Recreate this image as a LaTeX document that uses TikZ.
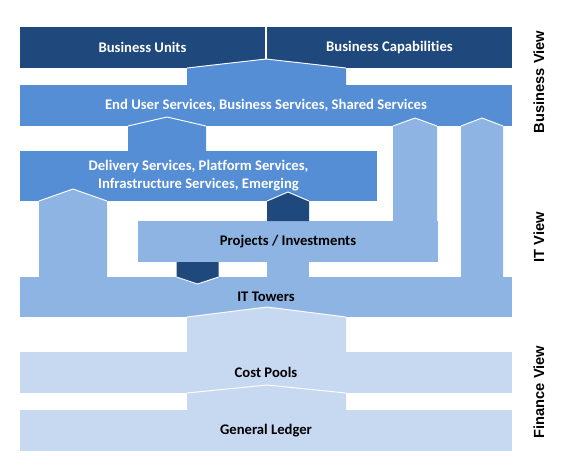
\documentclass[tikz,border=0pt]{standalone}
\usepackage{fontspec}
\setmainfont{Carlito}[Ligatures={NoCommon,NoRare}]
\newfontfamily\sidefont{Liberation Sans}
\usetikzlibrary{positioning,calc}
\definecolor{tbmdark}{RGB}{31,73,125}
\definecolor{tbmmid}{RGB}{85,142,213}
\definecolor{tbmlight}{RGB}{142,180,227}
\definecolor{tbmpale}{RGB}{198,217,241}

\begin{document}
\begin{tikzpicture}[x=0.75pt, y=-0.75pt,
    layer/.style={rectangle, inner sep=0pt, outer sep=0pt, minimum width=369pt,
                  minimum height=30.75pt, align=center,
                  font=\bfseries\fontsize{11pt}{13.5pt}\selectfont},
    darkbox/.style={layer, fill=tbmdark, text=white},
    midbox/.style={layer, fill=tbmmid, text=white},
    lightbox/.style={layer, fill=tbmlight, text=black},
    palebox/.style={layer, fill=tbmpale, text=black},
    roof/.style={draw=white, line width=0.7pt, line join=miter},
    viewlabel/.style={rotate=90, font=\sidefont\bfseries\fontsize{11pt}{13pt}\selectfont}
]
\useasboundingbox (0,0) rectangle (578,472);

% layers
\node[darkbox, minimum width=183.75pt] (bu) at (142.5,47.5) {Business Units};
\node[darkbox, minimum width=183.75pt, right=1.5pt of bu] (bc) {Business Capabilities};
\node[midbox] (eus) at (266,105.5) {End User Services, Business Services, Shared Services};
\node[midbox, minimum width=267.75pt, minimum height=37.5pt] (dlv) at (198.5,176)
    {Delivery Services, Platform Services,\\Infrastructure Services, Emerging};
\node[lightbox, minimum width=225pt] (prj) at (288,241.5) {Projects / Investments};
\node[lightbox, minimum height=30pt] (itt) at (266,297) {IT Towers};
\node[palebox, below=26.25pt of itt] (cp) {Cost Pools};
\node[palebox, below=12.75pt of cp] (gl) {General Ledger};

% end user services -> business
\fill[tbmmid] ($(eus.north)+(-79,0)$) -- ($(eus.north |- bu.south)+(-79,0)$) -- ($(eus.north |- bu.south)+(0,-9)$)
    -- ($(eus.north |- bu.south)+(80,0)$) -- ($(eus.north)+(80,0)$) -- cycle;
\draw[roof] ($(eus.north |- bu.south)+(-79,0)$) -- ++(79,-9) -- ++(80,9);

% delivery -> end user services
\coordinate (a2) at ($(dlv.north west)+(147,0)$);
\fill[tbmmid] ($(a2)+(-39,0)$) -- ($(a2 |- eus.south)+(-39,0)$) -- ($(a2 |- eus.south)+(0,-9)$)
    -- ($(a2 |- eus.south)+(39,0)$) -- ($(a2)+(39,0)$) -- cycle;
\draw[roof] ($(a2 |- eus.south)+(-39,0)$) -- ++(39,-9) -- ++(39,9);

% projects -> end user services
\coordinate (a3) at ($(prj.north east)+(-23,0)$);
\fill[tbmlight] ($(a3)+(-22,0)$) -- ($(a3 |- eus.south)+(-22,0)$) -- ($(a3 |- eus.south)+(0,-8)$)
    -- ($(a3 |- eus.south)+(22,0)$) -- ($(a3)+(22,0)$) -- cycle;
\draw[roof] ($(a3 |- eus.south)+(-22,0)$) -- ++(22,-8) -- ++(22,8);

% it towers -> end user services
\coordinate (a4) at ($(itt.north east)+(-30,0)$);
\fill[tbmlight] ($(a4)+(-21,0)$) -- ($(a4 |- eus.south)+(-21,0)$) -- ($(a4 |- eus.south)+(0,-8)$)
    -- ($(a4 |- eus.south)+(21,0)$) -- ($(a4)+(21,0)$) -- cycle;
\draw[roof] ($(a4 |- eus.south)+(-21,0)$) -- ++(21,-8) -- ++(21,8);

% it towers -> delivery
\coordinate (a5) at ($(itt.north west)+(53,0)$);
\fill[tbmlight] ($(a5)+(-34,0)$) -- ($(a5 |- dlv.south)+(-34,0)$) -- ($(a5 |- dlv.south)+(0,-12)$)
    -- ($(a5 |- dlv.south)+(34,0)$) -- ($(a5)+(34,0)$) -- cycle;
\draw[roof] ($(a5 |- dlv.south)+(-34,0)$) -- ++(34,-12) -- ++(34,12);

% projects -> delivery
\fill[tbmdark] ($(prj.north)+(-21,0)$) -- ($(prj.north |- dlv.south)+(-21,0)$) -- ($(prj.north |- dlv.south)+(0,-9)$)
    -- ($(prj.north |- dlv.south)+(21,0)$) -- ($(prj.north)+(21,0)$) -- cycle;
\draw[roof] ($(prj.north |- dlv.south)+(-21,0)$) -- ++(21,-9) -- ++(21,9);

% projects -> it towers (down)
\coordinate (a7) at ($(prj.south west)+(59.5,0)$);
\fill[tbmdark] ($(a7)+(-21,0)$) -- ($(a7 |- itt.north)+(-21,0)$) -- ($(a7 |- itt.north)+(0,7)$)
    -- ($(a7 |- itt.north)+(21,0)$) -- ($(a7)+(21,0)$) -- cycle;
\draw[roof] ($(a7 |- itt.north)+(-21,0)$) -- ++(21,7) -- ++(21,-7);
\fill[tbmlight] ($(prj.south)+(-21,0)$) rectangle ($(prj.south |- itt.north)+(21,0.5)$);

% cost pools -> it towers
\fill[tbmpale] ($(cp.north)+(-79,0)$) -- ($(cp.north |- itt.south)+(-79,0)$) -- ($(cp.north |- itt.south)+(1,-10)$)
    -- ($(cp.north |- itt.south)+(80,0)$) -- ($(cp.north)+(80,0)$) -- cycle;
\draw[roof] ($(cp.north |- itt.south)+(-79,0)$) -- ++(80,-10) -- ++(79,10);

% general ledger -> cost pools
\fill[tbmpale] ($(gl.north)+(-79,0)$) -- ($(gl.north |- cp.south)+(-79,0)$) -- ($(gl.north |- cp.south)+(1,-8)$)
    -- ($(gl.north |- cp.south)+(80,0)$) -- ($(gl.north)+(80,0)$) -- cycle;
\draw[roof] ($(gl.north |- cp.south)+(-79,0)$) -- ++(80,-8) -- ++(79,8);

% views
\node[viewlabel] (bview) at (539,82) {Business View};
\node[viewlabel] (iview) at (539,237) {IT View};
\node[viewlabel] (fview) at (539,392) {Finance View};

\end{tikzpicture}
\end{document}
